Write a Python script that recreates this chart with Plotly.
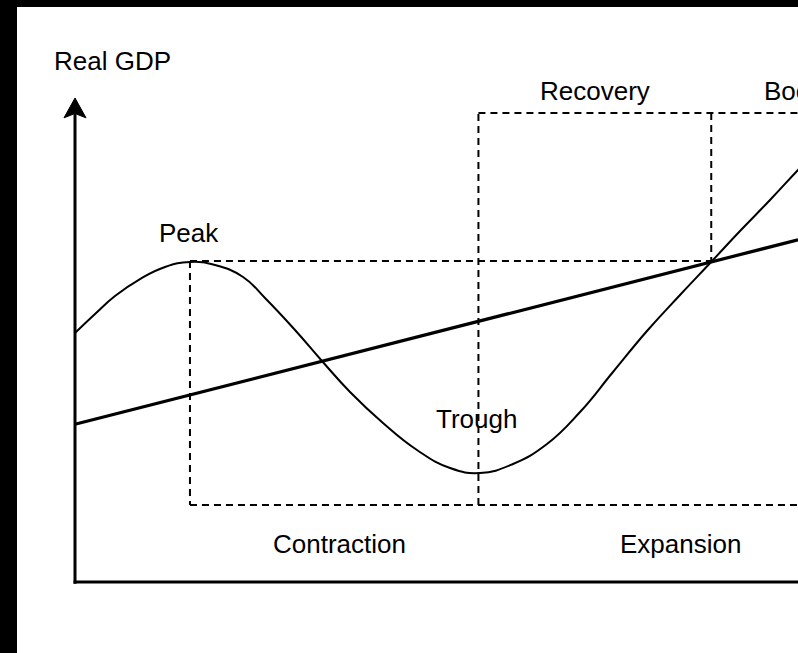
import plotly.graph_objects as go

# ---- data (time units 0..100 along the horizontal axis, GDP units 0..100 up to the arrow tip)
cycle_x = [0.0, 2.77, 5.53, 8.99, 12.45, 15.91, 19.36, 23.24, 26.28, 30.43, 34.16, 38.04,
           42.60, 47.30, 51.87, 56.02, 60.58, 65.28, 69.85, 74.41, 79.11, 83.68, 88.24,
           91.98, 96.13, 100.0, 103.87]
cycle_y = [51.45, 55.37, 59.09, 62.60, 65.08, 66.12, 65.50, 63.02, 58.68, 52.07, 45.66, 39.26,
           32.85, 27.27, 23.55, 22.52, 24.38, 28.50, 35.12, 43.39, 51.86, 59.30, 66.53,
           72.52, 78.93, 85.12, 91.12]

trend_x = [0.0, 100.0]
trend_y = [32.6, 70.7]

peak_x = 15.9
trough_x = 55.8
cross_x = 88.0
peak_level = 66.3
floor_level = 15.9
ceiling_level = 96.9
x_end = 100.0

labels = ["Real GDP", "Peak", "Recovery", "Boom", "Trough", "Contraction", "Expansion"]

# ---- figure geometry
W, H = 798, 653
ox, oy = 75, 582          # pixel position of the axis origin
sx, sy = 7.23, 4.84       # pixels per data unit
xr = [(0 - ox) / sx, (W - ox) / sx]
yr = [(oy - H) / sy, (oy - 0) / sy]

fig = go.Figure()

dash = "7px,5px"
guides = [
    ([peak_x, cross_x], [peak_level, peak_level]),
    ([peak_x, peak_x], [peak_level, floor_level]),
    ([peak_x, x_end + 2], [floor_level, floor_level]),
    ([trough_x, trough_x], [floor_level, ceiling_level]),
    ([trough_x, x_end + 2], [ceiling_level, ceiling_level]),
    ([cross_x, cross_x], [ceiling_level, peak_level]),
]
for gx, gy in guides:
    fig.add_trace(go.Scatter(x=gx, y=gy, mode="lines",
                             line=dict(color="black", width=2, dash=dash),
                             hoverinfo="skip", showlegend=False))

fig.add_trace(go.Scatter(x=trend_x, y=trend_y, mode="lines",
                         line=dict(color="black", width=3.2),
                         hoverinfo="skip", showlegend=False))
fig.add_trace(go.Scatter(x=cycle_x, y=cycle_y, mode="lines",
                         line=dict(color="black", width=2, shape="spline", smoothing=1.3),
                         hoverinfo="skip", showlegend=False))

# axes with arrow
arrow_tip = 100.0
arrow_base = 95.9
arrow_notch = 96.8
arrow_half = 1.52
shapes = [
    dict(type="line", x0=0, x1=0, y0=-0.35, y1=arrow_notch, line=dict(color="black", width=3)),
    dict(type="line", x0=-0.2, x1=x_end + 2, y0=0, y1=0, line=dict(color="black", width=3)),
    dict(type="path",
         path=f"M 0 {arrow_tip} L {arrow_half} {arrow_base} L 0 {arrow_notch} L {-arrow_half} {arrow_base} Z",
         fillcolor="black", line=dict(color="black", width=1)),
    # black frame bands of the picture
    dict(type="rect", xref="paper", yref="paper", x0=0, x1=17 / W, y0=0, y1=1,
         fillcolor="black", line=dict(width=0), layer="above"),
    dict(type="rect", xref="paper", yref="paper", x0=0, x1=1, y0=1 - 7 / H, y1=1,
         fillcolor="black", line=dict(width=0), layer="above"),
]

label_pos = [
    (5.12, 107.6, "center"),
    (15.77, 72.2, "center"),
    (71.9, 101.4, "center"),
    (95.0, 101.4, "left"),
    (55.6, 33.7, "center"),
    (36.65, 7.75, "center"),
    (83.7, 7.85, "center"),
]
annotations = []
for text, (ax_, ay_, anc) in zip(labels, label_pos):
    annotations.append(dict(x=ax_, y=ay_, xref="x", yref="y", text=text, showarrow=False,
                            xanchor=anc, yanchor="middle",
                            font=dict(family="Liberation Sans, Arial, sans-serif", size=26, color="black")))

fig.update_layout(
    width=W, height=H,
    margin=dict(l=0, r=0, t=0, b=0),
    paper_bgcolor="white", plot_bgcolor="white",
    xaxis=dict(range=xr, visible=False, fixedrange=True),
    yaxis=dict(range=yr, visible=False, fixedrange=True),
    shapes=shapes,
    annotations=annotations,
    showlegend=False,
)

fig.write_html("out.html",
               config={"displayModeBar": False, "staticPlot": True},
               post_script="document.body.style.margin='0';document.body.style.overflow='hidden';")
